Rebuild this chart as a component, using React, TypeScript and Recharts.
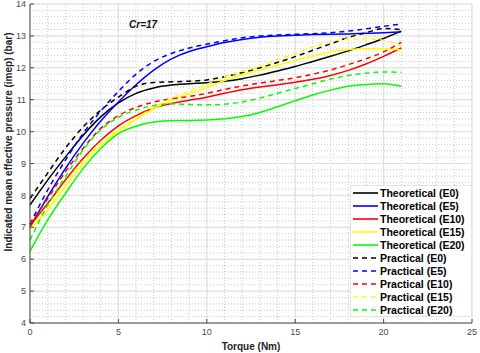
import { LineChart, Line, XAxis, YAxis, CartesianGrid, Legend, ReferenceDot } from "recharts";

const FONT = '"Liberation Sans", Arial, sans-serif';

// torque (Nm)
const torque = [0, 1, 2, 3, 4, 5, 6, 7, 8, 9, 10, 11, 12, 13, 14, 15, 16, 17, 18, 19, 20, 21];

// imep (bar)
const theoE0 = [7.7, 8.48, 9.2, 9.88, 10.46, 10.9, 11.2, 11.37, 11.46, 11.5, 11.53, 11.58, 11.66, 11.77, 11.9, 12.04, 12.2, 12.36, 12.53, 12.72, 12.92, 13.15];
const theoE5 = [7.0, 7.96, 8.84, 9.63, 10.33, 10.93, 11.47, 11.93, 12.28, 12.51, 12.66, 12.79, 12.89, 12.96, 13.0, 13.02, 13.04, 13.05, 13.06, 13.08, 13.1, 13.13];
const theoE10 = [7.05, 7.75, 8.48, 9.16, 9.73, 10.18, 10.5, 10.74, 10.88, 10.98, 11.08, 11.2, 11.31, 11.4, 11.47, 11.55, 11.64, 11.76, 11.92, 12.12, 12.36, 12.62];
const theoE15 = [6.93, 7.54, 8.27, 9.0, 9.57, 10.02, 10.38, 10.72, 10.98, 11.18, 11.38, 11.6, 11.78, 11.93, 12.08, 12.23, 12.37, 12.5, 12.57, 12.6, 12.6, 12.56];
const theoE20 = [6.25, 7.23, 8.06, 8.84, 9.47, 9.94, 10.17, 10.3, 10.35, 10.35, 10.36, 10.4, 10.47, 10.6, 10.78, 10.97, 11.15, 11.3, 11.42, 11.48, 11.5, 11.42];
const pracE0 = [7.9, 8.7, 9.48, 10.14, 10.67, 11.08, 11.42, 11.54, 11.56, 11.58, 11.62, 11.72, 11.85, 12.0, 12.17, 12.35, 12.55, 12.75, 12.95, 13.1, 13.23, 13.2];
const pracE5 = [7.1, 8.17, 9.1, 9.94, 10.64, 11.26, 11.8, 12.2, 12.45, 12.62, 12.74, 12.85, 12.94, 13.0, 13.03, 13.05, 13.07, 13.1, 13.15, 13.22, 13.3, 13.37];
const pracE10 = [7.1, 7.9, 8.74, 9.47, 10.1, 10.5, 10.76, 10.93, 11.03, 11.1, 11.2, 11.32, 11.43, 11.52, 11.6, 11.69, 11.8, 11.93, 12.1, 12.28, 12.5, 12.8];
const pracE15 = [6.95, 7.65, 8.4, 9.08, 9.62, 10.06, 10.42, 10.76, 11.04, 11.27, 11.48, 11.72, 11.88, 12.05, 12.25, 12.45, 12.65, 12.82, 12.9, 12.91, 12.86, 12.68];
const pracE20 = [6.6, 7.7, 8.58, 9.42, 10.05, 10.45, 10.67, 10.82, 10.87, 10.85, 10.84, 10.86, 10.93, 11.05, 11.2, 11.35, 11.5, 11.65, 11.76, 11.83, 11.87, 11.85];

const xTicks = [0, 5, 10, 15, 20, 25];
const yTicks = [4, 5, 6, 7, 8, 9, 10, 11, 12, 13, 14];
const xMinor = Array.from({ length: 26 }, (_, i) => i);
const yMinor = Array.from({ length: 51 }, (_, i) => 4 + i * 0.2);

const series = [
  { key: "te0", name: "Theoretical (E0)", color: "#000000", dash: undefined, values: theoE0 },
  { key: "te5", name: "Theoretical (E5)", color: "#0000ff", dash: undefined, values: theoE5 },
  { key: "te10", name: "Theoretical (E10)", color: "#ff0000", dash: undefined, values: theoE10 },
  { key: "te15", name: "Theoretical (E15)", color: "#ffff00", dash: undefined, values: theoE15 },
  { key: "te20", name: "Theoretical (E20)", color: "#00ff00", dash: undefined, values: theoE20 },
  { key: "pe0", name: "Practical (E0)", color: "#000000", dash: "5 4", values: pracE0 },
  { key: "pe5", name: "Practical (E5)", color: "#0000ff", dash: "5 4", values: pracE5 },
  { key: "pe10", name: "Practical (E10)", color: "#ff0000", dash: "5 4", values: pracE10 },
  { key: "pe15", name: "Practical (E15)", color: "#ffff00", dash: "5 4", values: pracE15 },
  { key: "pe20", name: "Practical (E20)", color: "#00ff00", dash: "5 4", values: pracE20 },
];

const data = torque.map((t, i) => {
  const row: any = { torque: t };
  series.forEach((s) => (row[s.key] = s.values[i]));
  return row;
});

// minor dotted grid, placed through the axis scales
const minorH = ({ yAxis, offset }: any) =>
  yMinor.map((v) =>
    yAxis && typeof yAxis.scale === "function"
      ? yAxis.scale(v)
      : offset.top + (offset.height * (14 - v)) / 10
  );
const minorV = ({ xAxis, offset }: any) =>
  xMinor.map((v) =>
    xAxis && typeof xAxis.scale === "function"
      ? xAxis.scale(v)
      : offset.left + (offset.width * v) / 25
  );

const renderLegend = () => (
  <div
    style={{
      width: 122,
      height: 132,
      boxSizing: "border-box",
      background: "#fff",
      border: "1px solid #e3e3e3",
      fontFamily: FONT,
      fontWeight: "bold",
      fontSize: 10.5,
      color: "#000",
    }}
  >
    {series.map((s) => (
      <div key={s.key} style={{ display: "flex", alignItems: "center", height: 13.1, whiteSpace: "nowrap" }}>
        <svg width={29} height={4} style={{ flex: "none" }}>
          <line x1={2} x2={27} y1={2} y2={2} stroke={s.color} strokeWidth={1.6} strokeDasharray={s.dash} />
        </svg>
        <span>{s.name}</span>
      </div>
    ))}
  </div>
);

const yLabel = ({ viewBox }: any) => {
  const x = viewBox.x + 8;
  const y = 142;
  return (
    <text
      x={x}
      y={y}
      transform={`rotate(-90 ${x} ${y})`}
      textAnchor="middle"
      dominantBaseline="central"
      fontFamily={FONT}
      fontWeight="bold"
      fontSize={10}
      fill="#222"
    >
      Indicated mean effective pressure (imep) (bar)
    </text>
  );
};

export default function App() {
  return (
    <div style={{ position: "absolute", left: 0, top: 0, background: "#fff" }}>
      <LineChart width={480} height={353} data={data} margin={{ top: 4, right: 8, bottom: 0, left: 0 }}>
        <CartesianGrid
          stroke="#c9c9c9"
          strokeDasharray="1 2"
          horizontalCoordinatesGenerator={minorH}
          verticalCoordinatesGenerator={minorV}
        />
        <CartesianGrid stroke="#dedede" />
        <XAxis
          dataKey="torque"
          type="number"
          domain={[0, 25]}
          ticks={xTicks}
          interval={0}
          height={30}
          tickSize={-4}
          tickMargin={10}
          stroke="#4a4a4a"
          tick={{ fontSize: 9, fill: "#4a4a4a", fontFamily: FONT }}
          label={{
            value: "Torque (Nm)",
            position: "insideBottom",
            offset: 3,
            style: { fontFamily: FONT, fontWeight: "bold", fontSize: 10, fill: "#222" },
          }}
        />
        <XAxis
          xAxisId="top"
          orientation="top"
          type="number"
          domain={[0, 25]}
          ticks={xTicks}
          interval={0}
          height={0}
          tickSize={-4}
          tick={false}
          stroke="#4a4a4a"
        />
        <YAxis
          type="number"
          domain={[4, 14]}
          ticks={yTicks}
          interval={0}
          width={30}
          tickSize={-4}
          tickMargin={8}
          stroke="#4a4a4a"
          tick={{ fontSize: 9, fill: "#4a4a4a", fontFamily: FONT }}
          label={{ content: yLabel }}
        />
        <YAxis
          yAxisId="right"
          orientation="right"
          type="number"
          domain={[4, 14]}
          ticks={yTicks}
          interval={0}
          width={0}
          tickSize={-4}
          tick={false}
          stroke="#4a4a4a"
        />
        <ReferenceDot
          x={6.4}
          y={13.35}
          r={0}
          fill="none"
          stroke="none"
          label={{
            value: "Cr=17",
            position: "center",
            style: { fontFamily: FONT, fontWeight: "bold", fontStyle: "italic", fontSize: 10, fill: "#111" },
          }}
        />
        {series.map((s) => (
          <Line
            key={s.key}
            type="monotone"
            dataKey={s.key}
            name={s.name}
            stroke={s.color}
            strokeWidth={1.5}
            strokeDasharray={s.dash}
            dot={false}
            activeDot={false}
            isAnimationActive={false}
          />
        ))}
        <Legend
          layout="vertical"
          align="center"
          verticalAlign="middle"
          width={122}
          height={132}
          wrapperStyle={{ left: 350, top: 185, width: 122, height: 132 }}
          content={renderLegend}
        />
      </LineChart>
    </div>
  );
}
